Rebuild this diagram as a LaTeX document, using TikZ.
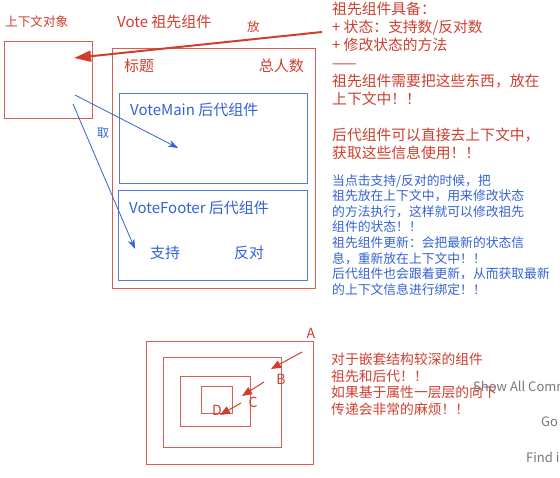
\documentclass[tikz,border=0pt]{standalone}
\usepackage{fontspec}
\setmainfont{Noto Sans CJK SC}
\usepackage{xcolor}
\usetikzlibrary{arrows.meta}

\definecolor{ancred}{RGB}{208,62,46}
\definecolor{boxred}{RGB}{214,96,84}
\definecolor{descblue}{RGB}{52,98,212}
\definecolor{boxblue}{RGB}{86,122,214}
\definecolor{hintgray}{RGB}{120,120,120}

\tikzset{
	redbox/.style={draw=boxred,line width=1pt,inner sep=0pt,anchor=north west},
	bluebox/.style={draw=boxblue,line width=1pt,inner sep=0pt,anchor=north west},
	redtxt/.style={text=ancred,inner sep=0pt,anchor=west},
	bluetxt/.style={text=descblue,inner sep=0pt,anchor=west},
	notes/.style={inner sep=0pt,anchor=north west,align=left},
}

\begin{document}
\begin{tikzpicture}[x=1pt,y=-1pt]
		\useasboundingbox (0,0) rectangle (560,478);
		% context object and ancestor component
		\node[redtxt,font=\fontsize{12.6}{14}\selectfont] (ctxlabel) at (5,22) {上下文对象};
		\node[redbox,minimum width=88pt,minimum height=77pt] (ctx) at (4,41) {};
		\node[redtxt,font=\fontsize{15}{17}\selectfont] (votelabel) at (117,22) {Vote 祖先组件};
		\node[redtxt,font=\fontsize{12.5}{14}\selectfont] (put) at (247,27) {放};
		\node[redbox,minimum width=203pt,minimum height=240pt] (vote) at (112,48) {};
		\node[redtxt,font=\fontsize{15}{17}\selectfont] (title) at (124,66) {标题};
		\node[redtxt,font=\fontsize{15}{17}\selectfont,anchor=east] (total) at (304,66) {总人数};
		%
		\node[bluebox,minimum width=188pt,minimum height=90pt] (main) at (119,93) {};
		\node[bluetxt,font=\fontsize{15}{17}\selectfont] (mainlabel) at (130,110) {VoteMain 后代组件};
		\node[bluebox,minimum width=189pt,minimum height=90pt] (footer) at (118,190) {};
		\node[bluetxt,font=\fontsize{15}{17}\selectfont] (footerlabel) at (129,208) {VoteFooter 后代组件};
		\node[bluetxt,font=\fontsize{15}{17}\selectfont] (support) at (150,253) {支持};
		\node[bluetxt,font=\fontsize{15}{17}\selectfont] (oppose) at (234,253) {反对};
		\node[bluetxt,font=\fontsize{12}{14}\selectfont] (take) at (97,133) {取};
		%
		\coordinate (putfrom) at (322,32);
		\coordinate (puttip) at (74,58);
		\coordinate (takeA) at (75,95);
		\coordinate (tipA) at (178,148);
		\coordinate (takeB) at (73,104);
		\coordinate (tipB) at (135,249);
		\draw[ancred,line width=2pt,-{Triangle[length=17pt,width=11pt]}] (putfrom) -- (puttip);
		\path[descblue,line width=0.8pt,-{Stealth[length=10pt,width=7pt]}]
		(takeA) edge (tipA)
		(takeB) edge (tipB);
		%
		% notes on the right
		\node[notes,text=ancred,font=\fontsize{14.8}{18}\selectfont] (notea) at (332,1.5) {祖先组件具备：\\+ 状态：支持数/反对数\\+ 修改状态的方法\\——\\祖先组件需要把这些东西，放在\\上下文中！！\\[18pt]后代组件可以直接去上下文中，\\获取这些信息使用！！};
		\node[notes,text=descblue,font=\fontsize{12.8}{15.6}\selectfont] (noteb) at (332,174) {当点击支持/反对的时候，把\\祖先放在上下文中，用来修改状态\\的方法执行，这样就可以修改祖先\\组件的状态！！\\祖先组件更新：会把最新的状态信\\息，重新放在上下文中！！\\后代组件也会跟着更新，从而获取最新\\的上下文信息进行绑定！！};
		%
		% nested boxes
		\node[redbox,minimum width=167pt,minimum height=123pt] (boxA) at (146,341) {};
		\node[redbox,minimum width=118pt,minimum height=90pt] (boxB) at (163,357) {};
		\node[redbox,minimum width=70pt,minimum height=50pt] (boxC) at (180,376) {};
		\node[redbox,minimum width=31pt,minimum height=27pt] (boxD) at (201,386) {};
		\node[redtxt,font=\fontsize{14}{16}\selectfont,anchor=center] (labA) at (311,333) {A};
		\node[redtxt,font=\fontsize{14}{16}\selectfont,anchor=center] (labB) at (281,379) {B};
		\node[redtxt,font=\fontsize{14}{16}\selectfont,anchor=center] (labC) at (253,402) {C};
		\node[redtxt,font=\fontsize{14}{16}\selectfont,anchor=center] (labD) at (217,410) {D};
		\coordinate (fromB) at (302,352);
		\coordinate (toB) at (271,369);
		\coordinate (fromC) at (264,382);
		\coordinate (toC) at (242,396);
		\coordinate (fromD) at (241,403);
		\coordinate (toD) at (220,415);
		\path[ancred,line width=1pt,-{Triangle[length=10pt,width=8pt]}]
		(fromB) edge (toB)
		(fromC) edge (toC)
		(fromD) edge (toD);
		\node[notes,text=ancred,font=\fontsize{13.8}{16.4}\selectfont] (notec) at (331,353) {对于嵌套结构较深的组件\\祖先和后代！！\\如果基于属性一层层的向下\\传递会非常的麻烦！！};
		%
		% editor hints in the background
		\begin{scope}[font=\fontsize{13}{15}\selectfont]
		\clip (0,0) rectangle (560,478);
		\node[text=hintgray,inner sep=0pt,anchor=west] (hintshow) at (473,386) {Show All Commands};
		\node[text=hintgray,inner sep=0pt,anchor=west] (hintgo) at (541,421) {Go to File};
		\node[text=hintgray,inner sep=0pt,anchor=west] (hintfind) at (526,457) {Find in Files};
		\end{scope}
	\end{tikzpicture}
\end{document}
